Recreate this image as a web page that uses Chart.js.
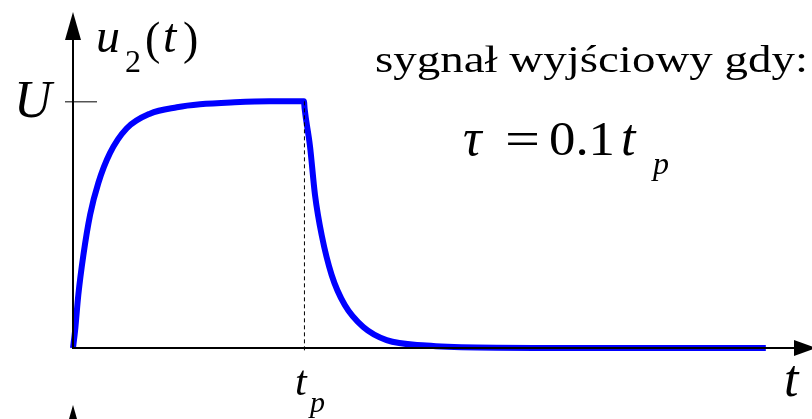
<!DOCTYPE html>
<html>
<head>
<meta charset="utf-8">
<script src="https://cdn.jsdelivr.net/npm/chart.js@4/dist/chart.umd.min.js"></script>
<style>
  body { margin: 0; background: #fff; }
  canvas { display: block; }
</style>
</head>
<body>
<canvas id="outChart" width="812" height="419"></canvas>
<script>
// time in units of t_p, voltage in units of U
const riseTimes  = [0, 0.009, 0.023, 0.045, 0.074, 0.11, 0.16, 0.232, 0.333, 0.45, 0.55, 0.7, 0.85, 1.0];
const riseValues = [0, 0.07, 0.215, 0.377, 0.54, 0.67, 0.79, 0.89, 0.95, 0.976, 0.988, 0.996, 1.0, 1.0];
const fallTimes  = [1.003, 1.026, 1.048, 1.077, 1.12, 1.177, 1.257, 1.358, 1.53, 1.75, 2.2, 3.0];
const fallValues = [0.97, 0.82, 0.62, 0.457, 0.296, 0.174, 0.085, 0.032, 0.01, 0.002, 0, 0];
const xMax = 3.2;
const yMax = 1.35;
const tpValue = 1;
const uValue = 1;

const points = riseTimes.map((t, i) => ({ x: t, y: riseValues[i] }))
  .concat(fallTimes.map((t, i) => ({ x: t, y: fallValues[i] })));

const serif = '"Liberation Serif", "Times New Roman", serif';

function text(ctx, str, x, y, size, italic) {
  ctx.font = (italic ? 'italic ' : '') + size + 'px ' + serif;
  ctx.fillText(str, x, y);
}

// draws a string squeezed or stretched to a given width
function fitText(ctx, str, x, y, size, width, italic) {
  ctx.font = (italic ? 'italic ' : '') + size + 'px ' + serif;
  const w = ctx.measureText(str).width;
  ctx.save();
  ctx.translate(x, y);
  ctx.scale(width / w, 1);
  ctx.fillText(str, 0, 0);
  ctx.restore();
}

function arrow(ctx, tipX, tipY, dx, dy, len, half) {
  // dx, dy: unit direction the arrow points to
  const bx = tipX - dx * len, by = tipY - dy * len;
  ctx.beginPath();
  ctx.moveTo(tipX, tipY);
  ctx.lineTo(bx - dy * half, by + dx * half);
  ctx.lineTo(bx + dy * half, by - dx * half);
  ctx.closePath();
  ctx.fill();
}

// axes, markers and labels go on top of the curve
const axesPlugin = {
  id: 'axesPlugin',
  afterDatasetsDraw(chart) {
    const ctx = chart.ctx;
    const xs = chart.scales.x, ys = chart.scales.y;
    const x0 = xs.getPixelForValue(0);
    const y0 = ys.getPixelForValue(0);
    const xEnd = xs.getPixelForValue(xMax);
    const yTop = ys.getPixelForValue(yMax);
    const xp = xs.getPixelForValue(tpValue);
    const yU = ys.getPixelForValue(uValue);

    ctx.save();
    ctx.strokeStyle = '#000';
    ctx.fillStyle = '#000';

    // dashed marker at t_p
    ctx.lineWidth = 1;
    ctx.setLineDash([4, 3]);
    ctx.beginPath();
    ctx.moveTo(xp + 0.5, yU);
    ctx.lineTo(xp + 0.5, y0 + 5);
    ctx.stroke();
    ctx.setLineDash([]);

    // tick at U
    ctx.beginPath();
    ctx.moveTo(x0 - 8, yU + 0.5);
    ctx.lineTo(x0 + 24, yU + 0.5);
    ctx.stroke();

    // axes
    ctx.lineWidth = 2;
    ctx.beginPath();
    ctx.moveTo(x0, y0);
    ctx.lineTo(x0, yTop + 10);
    ctx.moveTo(x0 - 1, y0);
    ctx.lineTo(xEnd - 10, y0);
    ctx.stroke();
    arrow(ctx, x0, yTop - 3, 0, -1, 28, 8);
    arrow(ctx, xEnd + 4, y0, 1, 0, 22, 8);
    // start of the next plot's axis below
    arrow(ctx, x0, chart.height - 14, 0, -1, 28, 8);

    // labels
    text(ctx, 'U', 14, 117, 52, true);
    text(ctx, 'u', 96, 52, 48, true);
    text(ctx, '2', 125, 72, 32, false);
    text(ctx, '(', 145, 54, 46, false);
    text(ctx, 't', 163, 52, 48, true);
    text(ctx, ')', 183, 54, 46, false);

    text(ctx, 't', 295, 395, 42, true);
    text(ctx, 'p', 310, 412, 30, true);
    text(ctx, 't', 784, 396, 52, true);

    fitText(ctx, 'sygnał wyjściowy gdy:', 375, 72, 38, 433, false);
    text(ctx, 'τ', 463, 155, 52, true);
    fitText(ctx, '=', 505, 155, 48, 35, false);
    fitText(ctx, '0.1', 549, 155, 48, 66, false);
    text(ctx, 't', 621, 155, 52, true);
    text(ctx, 'p', 653, 174, 32, true);
    ctx.restore();
  }
};

new Chart(document.getElementById('outChart'), {
  type: 'line',
  data: {
    datasets: [{
      data: points,
      borderColor: '#0000ff',
      borderWidth: 6,
      pointRadius: 0,
      cubicInterpolationMode: 'monotone',
      borderJoinStyle: 'round',
      clip: false
    }]
  },
  options: {
    responsive: false,
    animation: false,
    layout: { padding: { left: 73, right: 0, top: 15, bottom: 71 } },
    scales: {
      x: { type: 'linear', min: 0, max: xMax, display: false },
      y: { min: 0, max: yMax, display: false }
    },
    plugins: { legend: { display: false }, tooltip: { enabled: false } }
  },
  plugins: [axesPlugin]
});
</script>
</body>
</html>
